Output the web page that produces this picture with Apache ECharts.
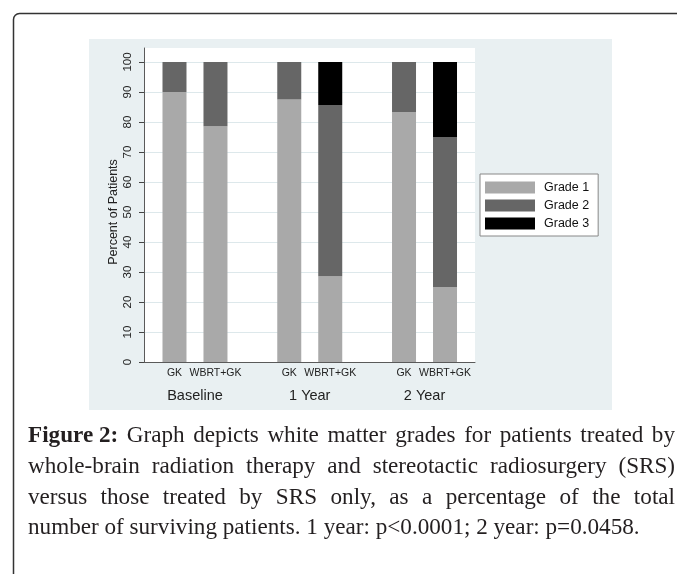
<!DOCTYPE html>
<html><head><meta charset="utf-8">
<script src="https://cdn.jsdelivr.net/npm/echarts@6/dist/echarts.min.js"></script>
<style>html,body{margin:0;padding:0;background:#fff}#c{width:677px;height:574px}</style>
</head><body><div id="c"></div>
<script>
// ---- data ----
const periods = ['Baseline', '1 Year', '2 Year'];
const treatments = ['GK', 'WBRT+GK'];
const grades = ['Grade 1', 'Grade 2', 'Grade 3'];
const gkGrade1 = [90, 87.5, 83.3];
const gkGrade2 = [10, 12.5, 16.7];
const gkGrade3 = [0, 0, 0];
const wbrtGrade1 = [78.6, 28.6, 25];
const wbrtGrade2 = [21.4, 57.1, 50];
const wbrtGrade3 = [0, 14.3, 25];
const yMin = 0, yMax = 100, yStep = 10;
const yAxisTitle = 'Percent of Patients';
const captionBold = 'Figure 2:';
const captionLines = [
  'Graph depicts white matter grades for patients treated by',
  'whole-brain radiation therapy and stereotactic radiosurgery (SRS)',
  'versus those treated by SRS only, as a percentage of the total',
  'number of surviving patients. 1 year: p<0.0001; 2 year: p=0.0458.'
];

// ---- styles ----
const SANS = '"Liberation Sans", Arial, sans-serif';
const SERIF = '"Liberation Serif", "Times New Roman", serif';
const gradeColors = ['#a9a9a9', '#666666', '#000000'];
const stacks = [[gkGrade1, gkGrade2, gkGrade3], [wbrtGrade1, wbrtGrade2, wbrtGrade3]];

const chart = echarts.init(document.getElementById('c'), null, {renderer: 'canvas'});

// caption layout (justified like the reference)
const cv = document.createElement('canvas').getContext('2d');
function mw(txt, size, bold) { cv.font = (bold ? 'bold ' : '') + size + 'px ' + SERIF; return cv.measureText(txt).width; }
const capLeft = 28, capRight = 675, lastLineWidth = 612;
const capSize = 20 * lastLineWidth / mw(captionLines[3], 20, false);
const baselines = [444, 474.7, 505.3, 536];
const capEls = [];
captionLines.forEach((line, li) => {
  let words = line.split(' ').map(w => ({t: w, b: false}));
  if (li === 0) words.unshift({t: captionBold, b: true});
  const widths = words.map(w => mw(w.t, capSize, w.b));
  const sum = widths.reduce((a, b) => a + b, 0);
  const space = mw(' ', capSize, false);
  const gap = li < captionLines.length - 1 ? (capRight - capLeft - sum) / (words.length - 1) : space;
  let x = capLeft;
  words.forEach((w, wi) => {
    capEls.push({
      type: 'text', x: x, y: baselines[li] - 0.34 * capSize, silent: true,
      style: {text: w.t, font: (w.b ? 'bold ' : '') + capSize.toFixed(2) + 'px ' + SERIF,
              fill: '#231f20', textAlign: 'left', textVerticalAlign: 'middle'}
    });
    x += widths[wi] + gap;
  });
});

const series = [];
treatments.forEach((t, ti) => {
  grades.forEach((g, gi) => {
    const s = {
      type: 'bar', name: g, stack: t, xAxisIndex: 2, yAxisIndex: 2,
      data: stacks[ti][gi], barWidth: 24, barGap: '70.8%',
      itemStyle: {color: gradeColors[gi]},
      emphasis: {disabled: true}, silent: true
    };
    if (gi === 0) {
      s.label = {show: true, position: 'bottom', distance: 6, formatter: t,
        fontFamily: SANS, fontSize: 10.5, color: '#222'};
    }
    series.push(s);
  });
});

const frame = {left: 144, top: 48, width: 331, height: 314};
const plot = {left: 144, top: 62, width: 331, height: 300};
const bars = {left: 137.6, top: 62, width: 344.3, height: 300};

chart.setOption({
  animation: false,
  grid: [
    Object.assign({show: true, backgroundColor: '#ffffff', borderWidth: 0}, frame),
    Object.assign({}, plot),
    Object.assign({}, bars)
  ],
  xAxis: [
    {type: 'value', gridIndex: 0, min: 0, max: 1, axisLine: {show: true, lineStyle: {color: '#5a5a5a', width: 1}},
     axisTick: {show: false}, axisLabel: {show: false}, splitLine: {show: false}},
    {type: 'value', gridIndex: 1, min: 0, max: 1, show: false},
    {type: 'category', gridIndex: 2, data: periods, axisLine: {show: false}, axisTick: {show: false},
     axisLabel: {fontFamily: SANS, fontSize: 14.5, color: '#222', margin: 26}, splitLine: {show: false}}
  ],
  yAxis: [
    {type: 'value', gridIndex: 0, min: 0, max: 1, axisLine: {show: true, lineStyle: {color: '#5a5a5a', width: 1}},
     axisTick: {show: false}, axisLabel: {show: false}, splitLine: {show: false}},
    {type: 'value', gridIndex: 1, min: yMin, max: yMax, interval: yStep,
     axisLine: {show: false},
     axisTick: {show: true, length: 5, lineStyle: {color: '#444', width: 1}},
     axisLabel: {rotate: 90, fontFamily: SANS, fontSize: 11.5, color: '#222', margin: 10},
     splitLine: {show: true, lineStyle: {color: '#dde8eb', width: 1}},
     name: yAxisTitle, nameLocation: 'middle', nameGap: 24,
     nameTextStyle: {fontFamily: SANS, fontSize: 12.5, color: '#222'}},
    {type: 'value', gridIndex: 2, min: yMin, max: yMax, show: false}
  ],
  legend: {
    data: grades, orient: 'vertical', left: 480, top: 174, selectedMode: false,
    itemWidth: 50, itemHeight: 12, itemGap: 5, padding: [7, 9, 6, 5], icon: 'rect',
    backgroundColor: '#ffffff', borderColor: '#888', borderWidth: 1,
    textStyle: {fontFamily: SANS, fontSize: 12.5, color: '#111', padding: [0, 0, 0, 4]}
  },
  graphic: [
    {type: 'rect', z: -10, silent: true, shape: {x: 89, y: 39, width: 523, height: 371},
     style: {fill: '#e9f0f2'}},
    {type: 'rect', z: 10, silent: true, shape: {x: 13.5, y: 13.5, width: 700, height: 600, r: 6},
     style: {fill: 'none', stroke: '#333', lineWidth: 1.5}}
  ].concat(capEls),
  series: series
});
</script></body></html>
